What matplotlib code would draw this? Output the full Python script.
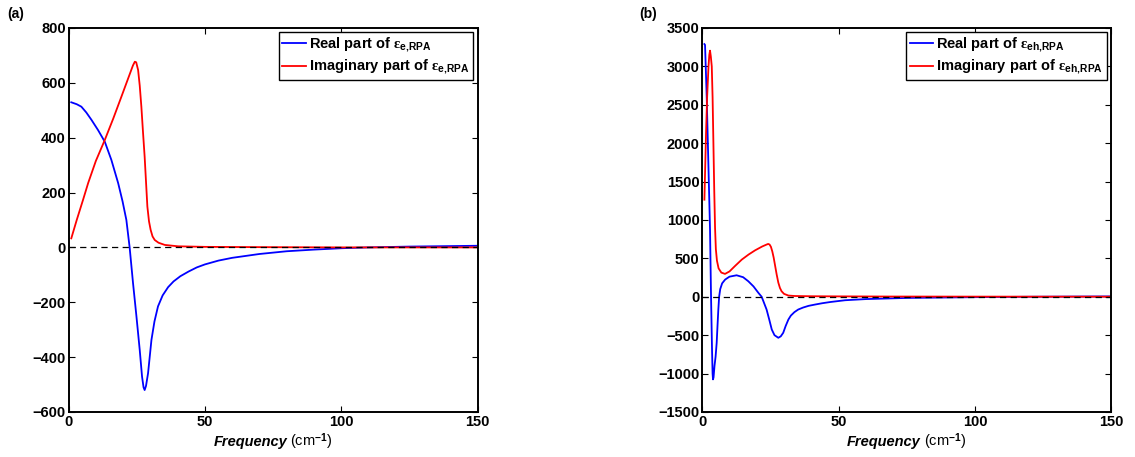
import numpy as np
import matplotlib.pyplot as plt

plt.rcParams['font.family'] = ['Liberation Sans', 'DejaVu Sans']
plt.rcParams['font.weight'] = 'bold'
plt.rcParams['mathtext.fontset'] = 'custom'
plt.rcParams['mathtext.rm'] = 'Liberation Sans'
plt.rcParams['mathtext.bf'] = 'Liberation Sans:bold'
plt.rcParams['mathtext.it'] = 'Liberation Serif'

# panel (a): electron RPA dielectric function
freq_a_re = [1.0, 3, 4.7, 6.5, 8.4, 10.8, 13.3, 15.7, 18.2, 19.8, 21.2, 22.4, 23.65, 24.9,
             26.1, 26.95, 27.5, 27.9, 28.4, 29.15, 30.4, 31.5, 32.8, 34.5, 36.5, 38.5,
             41, 44, 47, 50, 55, 60, 70, 80, 90, 100, 110, 125, 150]
eps_a_re = [529, 522, 513, 492, 465, 428, 385, 319, 234, 168, 100, 0, -131, -252,
            -374, -471, -510, -520, -505, -459, -337, -270, -215, -175, -145, -124,
            -105, -88, -73, -62, -48, -38, -24, -14, -8, -3, 0, 3, 6]
freq_a_im = [1.0, 3, 5.3, 7.2, 10, 13.3, 16.4, 19.4, 22, 23.6, 24.3, 24.8, 25.5, 26.1,
             26.7, 27.3, 27.9, 28.4, 28.9, 29.5, 30.1, 30.8, 31.6, 33, 35.3, 40.2, 50, 70,
             100, 150]
eps_a_im = [33, 100, 173, 235, 315, 392, 470, 550, 620, 663, 677, 675, 647, 590,
            513, 420, 331, 240, 149, 95, 64, 40, 27, 17, 9, 4, 2, 1,
            0, 0]

# panel (b): electron-hole RPA dielectric function
freq_b_re = [0.8, 1.03, 1.64, 2.25, 2.86, 3.23, 3.6, 3.8, 3.95, 4.15, 4.5, 4.9, 5.3, 5.6,
             5.9, 6.2, 6.6, 7.3, 8.4, 10, 12.6, 15, 16.9, 18.8, 20.6, 21.8, 23.6, 24.6,
             25.5, 26.5, 27.9, 28.8, 29.7, 30.6, 31.6, 32.5, 33.8, 35.2, 37, 39, 41.4,
             44, 47, 52.4, 60, 75, 100, 120, 150]
eps_b_re = [3290, 3279, 2607, 1741, 874, 7, -700, -1000, -1076, -1050, -900, -780, -600,
            -380, -170, 0, 100, 175, 224, 262, 280, 255, 202, 135, 51, 0, -166, -300,
            -426, -500, -534, -515, -469, -380, -296, -245, -200, -166, -140, -118, -101,
            -84, -68, -45, -30, -15, -5, 0, 5]
freq_b_im = [0.8, 1.1, 1.4, 1.8, 2.3, 2.6, 2.86, 3.15, 3.5, 3.8, 4.1, 4.4, 4.7, 5.0, 5.4,
             6.0, 7.0, 8.36, 10, 12, 14.5, 17, 19.4, 22, 23.6, 24.2, 24.7, 25.2, 25.7,
             26.2, 26.7, 27.3, 27.9, 28.5, 29.1, 30, 31.6, 34, 40, 50, 70, 100, 150]
eps_b_im = [1264, 1700, 2131, 2600, 3000, 3150, 3205, 3130, 3000, 2600, 2000, 1400, 900,
            620, 470, 370, 315, 298, 330, 400, 484, 550, 605, 655, 680, 688, 680, 650,
            590, 510, 410, 290, 185, 115, 72, 38, 16, 10, 7, 5, 3, 2, 1]

fig = plt.figure(figsize=(11.35, 4.57), dpi=100)
ax1 = fig.add_axes([0.0604, 0.0985, 0.3604, 0.8403])
ax2 = fig.add_axes([0.6187, 0.0985, 0.3604, 0.8403])

panels = [
    (ax1, freq_a_re, eps_a_re, freq_a_im, eps_a_im, 'e{,}RPA', (-600, 800), 200),
    (ax2, freq_b_re, eps_b_re, freq_b_im, eps_b_im, 'eh{,}RPA', (-1500, 3500), 500),
]

for ax, xr, yr, xi, yi, sub, ylim, step in panels:
    ax.plot(xr, yr, color='#0000ff', lw=1.3,
            label=r'Real part of $\varepsilon_{\mathbf{%s}}$' % sub)
    ax.plot(xi, yi, color='#ff0000', lw=1.3,
            label=r'Imaginary part of $\varepsilon_{\mathbf{%s}}$' % sub)
    ax.plot([0, 150], [0, 0], 'k--', lw=0.9, dashes=(5, 3.5))
    ax.set_xlim(0, 150)
    ax.set_ylim(*ylim)
    ax.set_xticks([0, 50, 100, 150])
    ax.set_yticks(np.arange(ylim[0], ylim[1] + 1, step))
    ax.tick_params(direction='in', top=True, right=True, length=4, width=0.8,
                   labelsize=10.5, pad=2)
    for lab in ax.get_xticklabels() + ax.get_yticklabels():
        lab.set_fontweight('bold')
    for s in ax.spines.values():
        s.set_linewidth(1.4)
    leg = ax.legend(loc='upper right', fontsize=10.5, handlelength=1.6,
                    handletextpad=0.2, borderaxespad=0.3, borderpad=0.25,
                    labelspacing=0.3, fancybox=False, framealpha=1, edgecolor='k')
    leg.get_frame().set_linewidth(1.0)
    ax.text(0.534, -0.077, 'Frequency', transform=ax.transAxes, ha='right',
            va='center', fontsize=10.5, fontweight='bold', style='italic')
    ax.text(0.542, -0.077, r'(cm$^{-1}$)', transform=ax.transAxes, ha='left',
            va='center', fontsize=10.5, fontweight='normal')

fig.text(0.006, 0.985, '(a)', fontsize=10, fontweight='bold', va='top')
fig.text(0.563, 0.985, '(b)', fontsize=10, fontweight='bold', va='top')

fig.savefig('out.png', dpi=100)
